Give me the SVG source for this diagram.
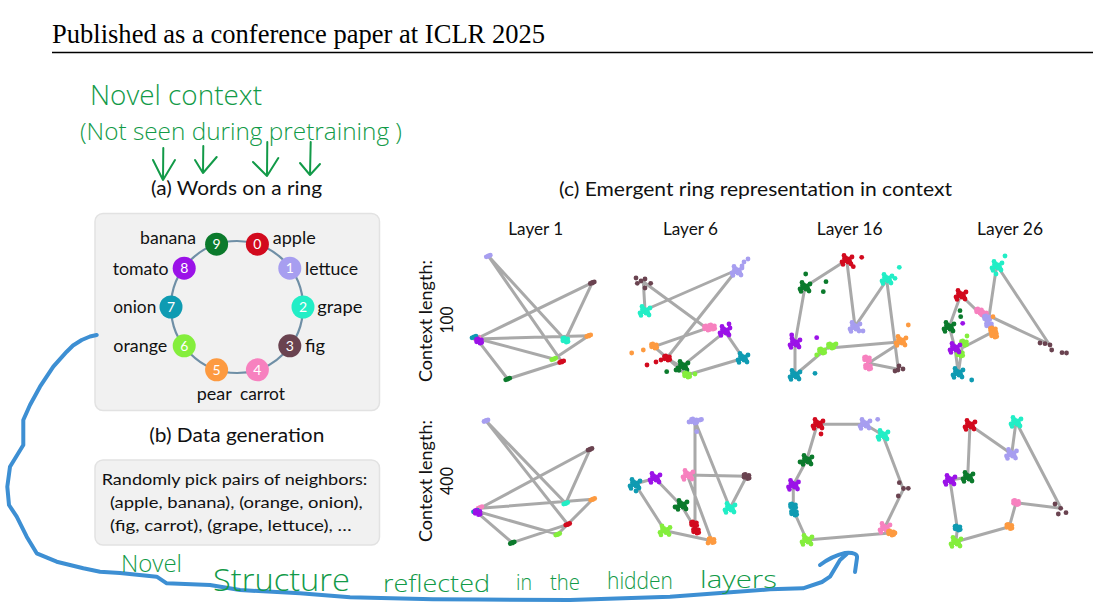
<svg xmlns="http://www.w3.org/2000/svg" xmlns:xlink="http://www.w3.org/1999/xlink" width="1093" height="610" viewBox="0 0 1093 610">
<style>
.sans{font-family:Lato,"Noto Sans","DejaVu Sans",sans-serif;fill:#111}
.title{font-size:19.5px}
.lbl{font-size:17px}
.layer{font-size:17.5px}
.box{font-size:16px}
.num{font-family:Lato,"Noto Sans",sans-serif;font-size:14px;fill:#fff;text-anchor:middle}
.hand{font-family:"Open Sans","DejaVu Sans",sans-serif;font-weight:300;fill:#129a48}
.harrow{fill:none;stroke:#129a48;stroke-width:2;stroke-linecap:round;stroke-linejoin:round}
.panel{fill:#f1f1f1;stroke:#e2e2e2;stroke-width:1.5}
.ln{fill:none;stroke:#8c8c8c;stroke-opacity:0.75;stroke-width:3;stroke-linejoin:round}
.c0{color:#d20a1e;fill:#d20a1e}.c1{color:#a79ef0;fill:#a79ef0}.c2{color:#22eec6;fill:#22eec6}.c3{color:#6a4350;fill:#6a4350}.c4{color:#f781bf;fill:#f781bf}
.c5{color:#fd9a40;fill:#fd9a40}.c6{color:#84ee3c;fill:#84ee3c}.c7{color:#0f9bb2;fill:#0f9bb2}.c8{color:#9b12e8;fill:#9b12e8}.c9{color:#0b7a2c;fill:#0b7a2c}
</style>
<defs>
<g id="s" fill="currentColor"><circle cx="0" cy="0" r="2.6"/><circle cx="2" cy="-0.8" r="2.4"/><circle cx="-2" cy="0.8" r="2.4"/></g>
<g id="t" fill="currentColor"><circle cx="0" cy="0" r="2.5"/><circle cx="2.4" cy="-1.2" r="2.4"/><circle cx="-2.4" cy="0.8" r="2.4"/><circle cx="1" cy="2.2" r="2.4"/><circle cx="-1.2" cy="-2" r="2.4"/><circle cx="2.8" cy="1.6" r="2.3"/><circle cx="-2.6" cy="-1.6" r="2.3"/></g>
<g id="m" fill="currentColor"><use xlink:href="#t"/><circle cx="5" cy="-3" r="2.4"/><circle cx="-5" cy="2" r="2.4"/><circle cx="4" cy="4" r="2.4"/><circle cx="-3" cy="-4.5" r="2.4"/><circle cx="-4" cy="4.5" r="2.3"/></g>
</defs>
<rect width="1093" height="610" fill="#fff"/>

<g id="header">
<text x="52" y="43" font-family="Liberation Serif, Times New Roman, serif" font-size="26.5" textLength="493" lengthAdjust="spacingAndGlyphs" fill="#000">Published as a conference paper at ICLR 2025</text>
<line x1="52" y1="52.5" x2="1093" y2="52.5" stroke="#000" stroke-width="1.5"/>
</g>

<g id="handwriting-top">
<text class="hand" x="90" y="105" font-size="28" textLength="172" lengthAdjust="spacingAndGlyphs">Novel context</text>
<text class="hand" x="80" y="140" font-size="24" textLength="322" lengthAdjust="spacingAndGlyphs">(Not seen during pretraining )</text>
<path class="harrow" d="M163.3,148 L163,180 M153,160 L163,180 L175,160"/>
<path class="harrow" d="M203.3,146 L203,173 M195,160 L203,173 L216.7,157"/>
<path class="harrow" d="M267.3,142 L267,176 M253,162 L267,176 L278.3,158"/>
<path class="harrow" d="M310.7,142 L310,175 M300,163 L310,175 L320,164"/>
</g>

<g id="panel-a">
<text class="sans title" x="151" y="195" textLength="171" lengthAdjust="spacingAndGlyphs">(a) Words on a ring</text>
<rect class="panel" x="95" y="213.5" width="284.5" height="197" rx="8"/>
<circle cx="237" cy="307" r="66" fill="none" stroke="#6f8fa6" stroke-width="2.2"/>
<g id="n0"><circle class="c0" cx="257.4" cy="244.2" r="11.5"/><text class="num" x="257.4" y="249.2">0</text></g>
<g id="n1"><circle class="c1" cx="289.8" cy="268.2" r="11.5"/><text class="num" x="289.8" y="273.2">1</text></g>
<g id="n2"><circle class="c2" cx="303" cy="307" r="11.5"/><text class="num" x="303" y="312">2</text></g>
<g id="n3"><circle class="c3" cx="289.8" cy="345.8" r="11.5"/><text class="num" x="289.8" y="350.8">3</text></g>
<g id="n4"><circle class="c4" cx="257.4" cy="369.8" r="11.5"/><text class="num" x="257.4" y="374.8">4</text></g>
<g id="n5"><circle class="c5" cx="216.6" cy="369.8" r="11.5"/><text class="num" x="216.6" y="374.8">5</text></g>
<g id="n6"><circle class="c6" cx="184.2" cy="345.8" r="11.5"/><text class="num" x="184.2" y="350.8">6</text></g>
<g id="n7"><circle class="c7" cx="171" cy="307" r="11.5"/><text class="num" x="171" y="312">7</text></g>
<g id="n8"><circle class="c8" cx="184.2" cy="268.2" r="11.5"/><text class="num" x="184.2" y="273.2">8</text></g>
<g id="n9"><circle class="c9" cx="216.6" cy="244.2" r="11.5"/><text class="num" x="216.6" y="249.2">9</text></g>
<text class="sans lbl" x="272.7" y="243.5" textLength="43" lengthAdjust="spacingAndGlyphs">apple</text>
<text class="sans lbl" x="305" y="274.5" textLength="53" lengthAdjust="spacingAndGlyphs">lettuce</text>
<text class="sans lbl" x="317.3" y="313" textLength="45" lengthAdjust="spacingAndGlyphs">grape</text>
<text class="sans lbl" x="305" y="352" textLength="20" lengthAdjust="spacingAndGlyphs">fig</text>
<text class="sans lbl" x="140" y="243.5" textLength="56" lengthAdjust="spacingAndGlyphs">banana</text>
<text class="sans lbl" x="112.7" y="274.5" textLength="56" lengthAdjust="spacingAndGlyphs">tomato</text>
<text class="sans lbl" x="113.3" y="313" textLength="43" lengthAdjust="spacingAndGlyphs">onion</text>
<text class="sans lbl" x="113.3" y="352" textLength="54" lengthAdjust="spacingAndGlyphs">orange</text>
<text class="sans lbl" x="196.7" y="400" textLength="35" lengthAdjust="spacingAndGlyphs">pear</text>
<text class="sans lbl" x="240" y="400" textLength="45" lengthAdjust="spacingAndGlyphs">carrot</text>
</g>

<g id="panel-b">
<text class="sans title" x="149.3" y="442" textLength="175" lengthAdjust="spacingAndGlyphs">(b) Data generation</text>
<rect class="panel" x="95" y="460" width="284.5" height="85" rx="8"/>
<text class="sans box" x="101.7" y="484.5" textLength="265.6" lengthAdjust="spacingAndGlyphs">Randomly pick pairs of neighbors:</text>
<text class="sans box" x="110" y="508" textLength="252.7" lengthAdjust="spacingAndGlyphs">(apple, banana), (orange, onion),</text>
<text class="sans box" x="110" y="530.5" textLength="241.7" lengthAdjust="spacingAndGlyphs">(fig, carrot), (grape, lettuce), …</text>
</g>

<g id="panel-c-labels">
<text class="sans" font-size="20" x="559" y="196" textLength="393" lengthAdjust="spacingAndGlyphs">(c) Emergent ring representation in context</text>
<text class="sans layer" x="508.3" y="235" textLength="55" lengthAdjust="spacingAndGlyphs">Layer 1</text>
<text class="sans layer" x="663" y="235" textLength="55" lengthAdjust="spacingAndGlyphs">Layer 6</text>
<text class="sans layer" x="816.7" y="235" textLength="66" lengthAdjust="spacingAndGlyphs">Layer 16</text>
<text class="sans layer" x="977" y="235" textLength="66" lengthAdjust="spacingAndGlyphs">Layer 26</text>
<text class="sans" font-size="18" transform="translate(432,382) rotate(-90)" textLength="122" lengthAdjust="spacingAndGlyphs">Context length:</text>
<text class="sans" font-size="18" transform="translate(453,333.5) rotate(-90)" textLength="27" lengthAdjust="spacingAndGlyphs">100</text>
<text class="sans" font-size="18" transform="translate(432,542) rotate(-90)" textLength="122" lengthAdjust="spacingAndGlyphs">Context length:</text>
<text class="sans" font-size="18" transform="translate(453,495) rotate(-90)" textLength="28" lengthAdjust="spacingAndGlyphs">400</text>
</g>

<g id="connectors">
<polygon class="ln" points="561.7,361.7 488.3,256 565.3,340 592.3,282.7 476,339 588.7,335.7 553.7,359 474,337.7 478,340.7 507.7,379"/>
<polygon class="ln" points="666.7,358.3 736.7,270 645,310 643.3,281.7 706.7,328.3 654,346.7 686.7,375 743.3,358.3 725,331.7 681.7,366.7"/>
<polygon class="ln" points="846.7,260 855,326.7 886.7,280 898.3,369.3 868.3,363.3 901.7,341.7 826.7,348.3 795,375 795,343.3 805,286.7"/>
<polygon class="ln" points="960.7,295 988.3,321.7 996.7,265 1049,344 980,311.7 993.3,331.7 962,348 958.3,373.3 955,348.3 949.3,326.7"/>
<polygon class="ln" points="567.7,524.3 486,420.7 565.7,503.3 590,449.3 480,508.3 592.7,499.3 557.7,534.3 476,511 477,512.3 512.3,542.7"/>
<polygon class="ln" points="695,528.3 695,421 730,508.3 746.7,476.3 687.3,475 711.7,540.7 665,530.7 635,484 655,478.3 681.7,506"/>
<polygon class="ln" points="817.3,424.3 865,424.3 882.7,435 903.3,489.3 884,529 890,533 806.7,540 793.3,510 793.3,485 806.7,460"/>
<polygon class="ln" points="970,425 1011.7,454 1016,421.7 1061,508.3 1016,502.7 1009.3,526.7 956,541.7 957.3,528.3 950,480 967.7,477.3"/>
</g>

<g id="plot-l1-100">
<use xlink:href="#s" class="c0" x="561.7" y="361.7"/>
<use xlink:href="#s" class="c1" x="488.3" y="256"/>
<use xlink:href="#t" class="c2" x="565.3" y="340"/>
<use xlink:href="#s" class="c3" x="592.3" y="282.7"/>
<use xlink:href="#s" class="c4" x="477" y="338"/>
<use xlink:href="#s" class="c5" x="588.7" y="335.7"/>
<use xlink:href="#s" class="c6" x="553.7" y="359"/>
<use xlink:href="#s" class="c7" x="474" y="337"/>
<use xlink:href="#t" class="c8" x="479" y="341"/>
<use xlink:href="#s" class="c9" x="507.7" y="379"/>
</g>

<g id="plot-l6-100">
<g class="c3"><circle cx="636" cy="278" r="2.4"/><circle cx="645" cy="279" r="2.4"/><circle cx="650.7" cy="283.3" r="2.4"/><circle cx="645" cy="288" r="2.4"/><circle cx="637.3" cy="283.3" r="2.4"/><circle cx="641" cy="281" r="2.4"/></g>
<use xlink:href="#m" class="c2" x="645" y="311"/>
<use xlink:href="#m" class="c1" x="737" y="271"/>
<g class="c1"><circle cx="744" cy="262" r="2.4"/><circle cx="748" cy="259" r="2.4"/><circle cx="742" cy="266" r="2.4"/></g>
<use xlink:href="#t" class="c4" x="707" y="328"/><use xlink:href="#t" class="c4" x="712" y="327"/>
<use xlink:href="#m" class="c8" x="725" y="331"/><circle class="c8" cx="729" cy="324" r="2.4"/>
<use xlink:href="#t" class="c5" x="654" y="346"/><circle class="c5" cx="631.7" cy="353" r="2.4"/><circle class="c5" cx="643.3" cy="350" r="2.4"/>
<use xlink:href="#t" class="c0" x="667" y="358"/><circle class="c0" cx="647" cy="365" r="2.4"/><circle class="c0" cx="656" cy="362" r="2.4"/><circle class="c0" cx="661" cy="360" r="2.4"/>
<use xlink:href="#m" class="c9" x="683" y="366"/><circle class="c9" cx="666.7" cy="371.7" r="2.4"/><circle class="c9" cx="676" cy="370" r="2.4"/>
<use xlink:href="#t" class="c6" x="687" y="375"/><circle class="c6" cx="695" cy="374" r="2.4"/>
<use xlink:href="#m" class="c7" x="743" y="358"/>
</g>

<g id="plot-l16-100">
<use xlink:href="#m" class="c0" x="847" y="260"/><circle class="c0" cx="861.7" cy="257.3" r="2.4"/><circle class="c0" cx="853.3" cy="266.7" r="2.4"/>
<use xlink:href="#m" class="c9" x="805" y="287"/><circle class="c9" cx="805.7" cy="274" r="2.4"/><circle class="c9" cx="826" cy="281.7" r="2.4"/><circle class="c9" cx="823.3" cy="291.7" r="2.4"/>
<use xlink:href="#m" class="c2" x="887" y="279"/><circle class="c2" cx="899.3" cy="267.3" r="2.4"/><circle class="c2" cx="895" cy="278.3" r="2.4"/>
<use xlink:href="#m" class="c1" x="855" y="327"/><circle class="c1" cx="863" cy="331" r="2.4"/>
<use xlink:href="#m" class="c8" x="795" y="343"/><circle class="c8" cx="816.7" cy="337.7" r="2.4"/><circle class="c8" cx="791.7" cy="335" r="2.4"/>
<use xlink:href="#t" class="c6" x="822" y="351"/><use xlink:href="#t" class="c6" x="831" y="346"/><circle class="c6" cx="836" cy="344" r="2.4"/><circle class="c6" cx="816.7" cy="355" r="2.4"/>
<use xlink:href="#m" class="c5" x="901" y="341"/><circle class="c5" cx="908.3" cy="325" r="2.4"/>
<use xlink:href="#t" class="c4" x="867" y="359"/><use xlink:href="#t" class="c4" x="868" y="367"/>
<g class="c3"><circle cx="895" cy="371" r="2.4"/><circle cx="899" cy="366" r="2.4"/><circle cx="903" cy="369" r="2.4"/><circle cx="898" cy="370" r="2.4"/></g>
<use xlink:href="#m" class="c7" x="795" y="375"/><circle class="c7" cx="815" cy="373.3" r="2.4"/>
</g>

<g id="plot-l26-100">
<use xlink:href="#m" class="c2" x="997" y="266"/><circle class="c2" cx="1005" cy="256" r="2.4"/><circle class="c2" cx="996" cy="274" r="2.4"/>
<use xlink:href="#m" class="c0" x="961" y="295"/>
<use xlink:href="#m" class="c9" x="949" y="327"/><circle class="c9" cx="960" cy="310.7" r="2.4"/><circle class="c9" cx="960.7" cy="316.7" r="2.4"/>
<use xlink:href="#t" class="c4" x="979" y="311"/><use xlink:href="#t" class="c4" x="984" y="314"/>
<use xlink:href="#t" class="c1" x="987" y="318"/><use xlink:href="#t" class="c1" x="989" y="325"/>
<use xlink:href="#t" class="c5" x="993" y="330"/><use xlink:href="#t" class="c5" x="994" y="335"/><circle class="c5" cx="993" cy="316.7" r="2.4"/>
<use xlink:href="#t" class="c6" x="964" y="343"/><use xlink:href="#t" class="c6" x="960" y="354"/><circle class="c6" cx="967" cy="336" r="2.4"/>
<use xlink:href="#m" class="c8" x="955" y="348"/><circle class="c8" cx="962.7" cy="323.3" r="2.4"/>
<g class="c3"><circle cx="1040" cy="343" r="2.4"/><circle cx="1045" cy="343.7" r="2.4"/><circle cx="1050" cy="345" r="2.4"/><circle cx="1051.7" cy="350" r="2.4"/><circle cx="1062" cy="352.7" r="2.4"/><circle cx="1066.5" cy="353" r="2.4"/></g>
<use xlink:href="#m" class="c7" x="958" y="373"/><circle class="c7" cx="971.7" cy="380" r="2.4"/>
</g>

<g id="plot-l1-400">
<use xlink:href="#s" class="c0" x="567.7" y="524.3"/>
<use xlink:href="#s" class="c1" x="486" y="420.7"/>
<use xlink:href="#s" class="c2" x="565.7" y="503.3"/>
<use xlink:href="#s" class="c3" x="590" y="449.3"/>
<use xlink:href="#s" class="c4" x="480" y="507.5"/>
<use xlink:href="#s" class="c5" x="592.7" y="499.3"/>
<use xlink:href="#s" class="c6" x="557.7" y="534.3"/>
<use xlink:href="#s" class="c7" x="475.5" y="511"/>
<use xlink:href="#t" class="c8" x="477.5" y="512.5"/>
<use xlink:href="#s" class="c9" x="512.3" y="542.7"/>
</g>

<g id="plot-l6-400">
<use xlink:href="#t" class="c1" x="694" y="421"/><circle class="c1" cx="689" cy="422" r="2.4"/><circle class="c1" cx="700" cy="420" r="2.4"/><circle class="c1" cx="701.5" cy="419.5" r="2.4"/><circle class="c1" cx="696.7" cy="431.7" r="2.4"/>
<use xlink:href="#m" class="c4" x="688" y="475"/>
<use xlink:href="#t" class="c3" x="746.5" y="476.5"/>
<use xlink:href="#m" class="c2" x="730" y="508"/>
<use xlink:href="#m" class="c7" x="635" y="484"/><circle class="c7" cx="636" cy="491" r="2.4"/>
<use xlink:href="#m" class="c8" x="655" y="478"/>
<use xlink:href="#m" class="c9" x="682" y="505"/><circle class="c9" cx="675" cy="507" r="2.4"/>
<use xlink:href="#t" class="c0" x="694" y="524"/><use xlink:href="#t" class="c0" x="696" y="531"/>
<use xlink:href="#m" class="c6" x="665" y="530.5"/>
<use xlink:href="#t" class="c5" x="711.5" y="540.5"/><circle class="c5" cx="708" cy="543" r="2.4"/>
</g>

<g id="plot-l16-400">
<use xlink:href="#m" class="c0" x="818" y="424"/><circle class="c0" cx="821" cy="434" r="2.4"/>
<use xlink:href="#m" class="c1" x="865" y="424"/><circle class="c1" cx="877.7" cy="419.3" r="2.4"/>
<use xlink:href="#m" class="c2" x="883" y="435"/>
<g class="c3"><circle cx="899.3" cy="482.7" r="2.4"/><circle cx="903.5" cy="488.5" r="2.4"/><circle cx="908.3" cy="488.3" r="2.4"/><circle cx="898.3" cy="496" r="2.4"/></g>
<use xlink:href="#m" class="c4" x="885" y="528"/>
<use xlink:href="#t" class="c5" x="891" y="533"/><circle class="c5" cx="895" cy="533" r="2.4"/>
<use xlink:href="#m" class="c6" x="807" y="540"/>
<use xlink:href="#t" class="c7" x="793" y="506"/><use xlink:href="#t" class="c7" x="794" y="513"/>
<use xlink:href="#m" class="c8" x="793.5" y="485"/>
<use xlink:href="#m" class="c9" x="807" y="460"/><circle class="c9" cx="800" cy="462" r="2.4"/>
</g>

<g id="plot-l26-400">
<use xlink:href="#m" class="c0" x="970" y="425"/>
<use xlink:href="#m" class="c2" x="1016" y="422"/>
<use xlink:href="#m" class="c1" x="1011.5" y="454"/>
<use xlink:href="#m" class="c9" x="968" y="477"/>
<use xlink:href="#m" class="c8" x="950" y="480"/>
<g class="c3"><circle cx="1055" cy="504" r="2.4"/><circle cx="1060.7" cy="508.3" r="2.4"/><circle cx="1066" cy="512.7" r="2.4"/><circle cx="1058.3" cy="514" r="2.4"/></g>
<use xlink:href="#t" class="c4" x="1016" y="502.5"/>
<use xlink:href="#t" class="c5" x="1009.3" y="526.5"/>
<use xlink:href="#t" class="c7" x="957.5" y="528"/>
<use xlink:href="#m" class="c6" x="956" y="542"/>
</g>

<g id="annotation-arrow">
<path d="M96.7,335 L90,336.5 L81.7,340 L73,345.5 L66.7,351.7 L53.3,366.7 L40,386.7 L30,405 L23.3,420 L23.3,445 L10,466.7 L7.3,486.7 L9,505 L16.7,516.7 L26.7,536.7 L36.7,553.3 L56.7,561.7 L83.3,568.3 L100,571.7 L120,573 L156.7,576.7 L166.7,583.3 L210,585 L240,590 L300,593.3 L350,597.3 L433,599.3 L480,599.5 L570,600 L670,596.7 L770,589.3 L803,588.3 L822,582 L830,576.7 L840,560 L846.7,554" fill="none" stroke="#3d8fd3" stroke-width="4" stroke-linecap="round" stroke-linejoin="round"/>
<path d="M820,565 Q832,556 845,553 Q858,552 857,558 L855,572" fill="none" stroke="#3d8fd3" stroke-width="4" stroke-linecap="round" stroke-linejoin="round"/>
</g>

<g id="handwriting-bottom">
<text class="hand" x="121" y="572" font-size="24" textLength="61" lengthAdjust="spacingAndGlyphs">Novel</text>
<text class="hand" x="213" y="591" font-size="32" textLength="137" lengthAdjust="spacingAndGlyphs">Structure</text>
<text class="hand" x="383" y="592" font-size="24" textLength="107" lengthAdjust="spacingAndGlyphs">reflected</text>
<text class="hand" x="516" y="590" font-size="22" textLength="16" lengthAdjust="spacingAndGlyphs">in</text>
<text class="hand" x="550" y="590" font-size="22" textLength="30" lengthAdjust="spacingAndGlyphs">the</text>
<text class="hand" x="607" y="589" font-size="24" textLength="66" lengthAdjust="spacingAndGlyphs">hidden</text>
<text class="hand" x="700" y="588" font-size="24" textLength="77" lengthAdjust="spacingAndGlyphs">layers</text>
</g>
</svg>
